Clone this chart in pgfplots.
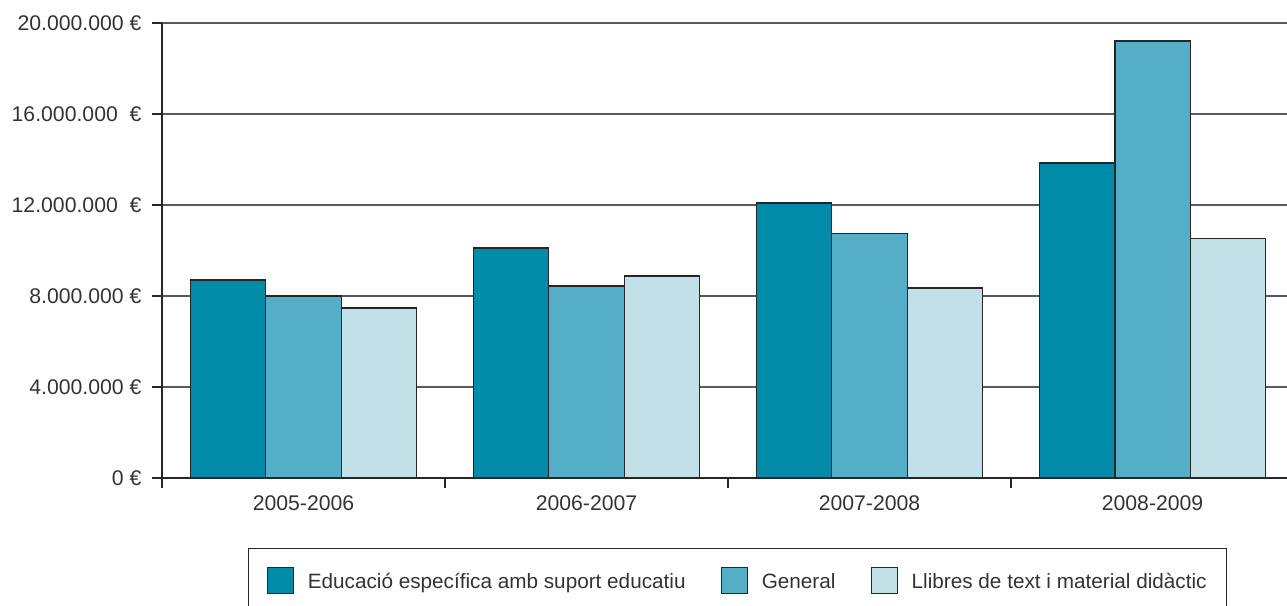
\documentclass[border=0pt]{standalone}
\usepackage{pgfplots}
\pgfplotsset{compat=1.18}
\usepackage{fontspec}
\setmainfont{Liberation Sans}
\definecolor{cA}{HTML}{008BA8}
\definecolor{cB}{HTML}{55AEC8}
\definecolor{cC}{HTML}{C2E0E8}
\definecolor{txt}{HTML}{333333}
\begin{document}
\begin{tikzpicture}
\path[use as bounding box] (0bp,0bp) rectangle (1287bp,606bp);
\begin{axis}[
  at={(162bp,128bp)}, anchor=south west,
  scale only axis, width=1125bp, height=455bp,
  xmin=-0.5, xmax=3.475, ymin=0, ymax=20,
  axis x line=bottom, axis y line=left,
  axis line style={-, line width=2.6bp, color=black!85},
  ybar=0pt, bar width=0.266,
  xtick={0,1,2,3},
  xticklabels={2005-2006,2006-2007,2007-2008,2008-2009},
  minor xtick={-0.5,0.5,1.5,2.5},
  major x tick style={draw=none},
  minor x tick style={line width=2.6bp, color=black!85},
  ytick={0,4,8,12,16,20},
  yticklabels={0 €,4.000.000 €,8.000.000 €,12.000.000\ \ €,16.000.000\ \ €,20.000.000 €},
  y tick style={line width=2.6bp, color=black!85},
  tick align=outside,
  major tick length=10bp, minor tick length=10bp,
  ymajorgrids, grid style={line width=1.3bp, color=black!65},
  every tick label/.append style={font=\fontsize{21.3}{25}\selectfont, text=txt},
  yticklabel style={xshift=-7bp},
  xticklabel style={yshift=-4bp},
  legend columns=3,
  legend style={at={(0.0764,-0.1538)}, anchor=north west, draw=black!85, line width=1.3bp,
    font=\fontsize{20.8}{25}\selectfont, text=txt, inner xsep=18bp, inner ysep=18bp,
    /tikz/every odd column/.append style={column sep=12bp},
    /tikz/every even column/.append style={column sep=33bp}},
  legend image code/.code={\draw[#1, line width=1.2bp, draw=black!85] (0bp,-13bp) rectangle (26bp,13bp);},
]
\addplot[fill=cA, draw=black!85, line width=1.2bp] coordinates {(0,8.70) (1,10.11) (2,12.09) (3,13.85)};
\addplot[fill=cB, draw=black!85, line width=1.2bp] coordinates {(0,8.00) (1,8.44) (2,10.73) (3,19.21)};
\addplot[fill=cC, draw=black!85, line width=1.2bp] coordinates {(0,7.47) (1,8.88) (2,8.35) (3,10.51)};
\legend{\strut Educació específica amb suport educatiu,\strut General,\strut Llibres de text i material didàctic}
\end{axis}
\end{tikzpicture}
\end{document}
